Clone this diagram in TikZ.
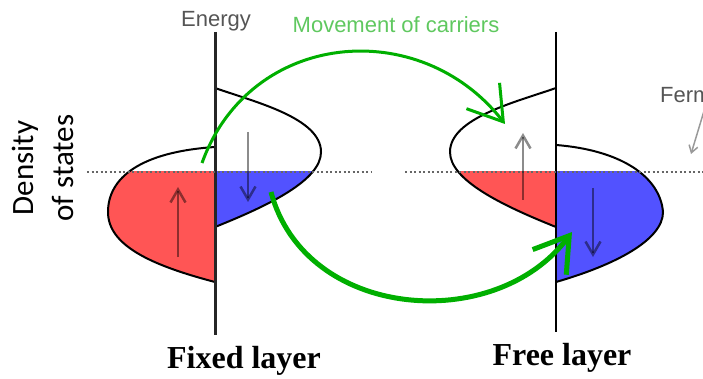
\documentclass[tikz,border=0pt]{standalone}
\usepackage{fontspec}
\setmainfont{Liberation Serif}
\newfontfamily\arialf{Liberation Sans}
\newfontfamily\calibrif{Carlito}
\usetikzlibrary{arrows.meta}
\definecolor{dosred}{RGB}{255,85,85}
\definecolor{dosblue}{RGB}{82,82,255}
\definecolor{cgreen}{RGB}{0,175,0}
\definecolor{tgreen}{RGB}{95,200,95}
\definecolor{tgray}{RGB}{85,85,85}
\begin{document}
\begin{tikzpicture}[x=1pt,y=-1pt,
  lobe/.style={draw=black,line width=2pt},
  axisline/.style={draw=black,line width=2.5pt},
  fermiline/.style={draw=black!60,line width=2pt,dash pattern=on 2pt off 2.5pt},
  spinarrow/.style={draw=black,draw opacity=0.45,line width=2.5pt,-{Straight Barb[length=13pt,width=15pt]}},
  carrier/.style={draw=cgreen,line width=3pt,-{Straight Barb[length=33pt,width=42pt]}},
  smalllabel/.style={font=\arialf\fontsize{22}{26}\selectfont,anchor=base,inner sep=0pt},
  layerlabel/.style={font=\bfseries\fontsize{32}{38}\selectfont,anchor=base,inner sep=0pt},
  doslabel/.style={font=\calibrif\fontsize{31}{36}\selectfont,anchor=base,inner sep=0pt,rotate=90}
]
\useasboundingbox (0,0) rectangle (703,379);
\clip (0,0) rectangle (703,379);

% filled parts below the Fermi level
\begin{scope}
  \clip (0,172) rectangle (703,379);
  \fill[dosred] (215,147) .. controls (140,152) and (108,178) .. (108,212)
     .. controls (108,245) and (150,265) .. (215,282) -- cycle;
  \fill[dosblue] (215,88) .. controls (255,102) and (321,118) .. (321,152)
     .. controls (321,180) and (270,205) .. (215,227) -- cycle;
  \fill[dosred] (556,88) .. controls (516,102) and (450,118) .. (450,152)
     .. controls (450,180) and (501,205) .. (556,227) -- cycle;
  \fill[dosblue] (556,145) .. controls (620,150) and (660,176) .. (663,212)
     .. controls (663,240) and (615,265) .. (556,282) -- cycle;
\end{scope}

% density of states outlines
\draw[lobe] (215,147) .. controls (140,152) and (108,178) .. (108,212)
   .. controls (108,245) and (150,265) .. (215,282);
\draw[lobe] (215,88) .. controls (255,102) and (321,118) .. (321,152)
   .. controls (321,180) and (270,205) .. (215,227);
\draw[lobe] (556,88) .. controls (516,102) and (450,118) .. (450,152)
   .. controls (450,180) and (501,205) .. (556,227);
\draw[lobe] (556,145) .. controls (620,150) and (660,176) .. (663,212)
   .. controls (663,240) and (615,265) .. (556,282);

% energy axes
\coordinate (ax1t) at (215,32); \coordinate (ax1b) at (215,335);
\coordinate (ax2t) at (556,32); \coordinate (ax2b) at (556,332);
\draw[axisline,black!85,line width=3pt] (ax1t) -- (ax1b);
\draw[axisline,line width=2pt] (ax2t) -- (ax2b);

% Fermi levels
\coordinate (f1a) at (87,172); \coordinate (f1b) at (372,172);
\coordinate (f2a) at (405,172); \coordinate (f2b) at (703,172);
\draw[fermiline] (f1a) -- (f1b);
\draw[fermiline] (f2a) -- (f2b);

% spin arrows
\coordinate (s1a) at (178,257); \coordinate (s1b) at (178,187);
\coordinate (s2a) at (248,132); \coordinate (s2b) at (248,202);
\coordinate (s3a) at (523,200); \coordinate (s3b) at (523,133);
\coordinate (s4a) at (593,188); \coordinate (s4b) at (593,257);
\draw[spinarrow] (s1a) -- (s1b);
\draw[spinarrow] (s2a) -- (s2b);
\draw[spinarrow] (s3a) -- (s3b);
\draw[spinarrow] (s4a) -- (s4b);

% movement of carriers
\coordinate (m1s) at (202,163); \coordinate (m1e) at (505,124);
\coordinate (m2s) at (271,192); \coordinate (m2e) at (572,232);
\draw[carrier] (m1s) .. controls (250,30) and (420,15) .. (m1e);
\draw[carrier,line width=5pt] (m2s) .. controls (305,320) and (495,335) .. (m2e);

% Fermi label pointer
\coordinate (fp1) at (704,111); \coordinate (fp2) at (691,154);
\draw[black!40,line width=1.5pt,-{Straight Barb[length=7pt,width=9pt]}] (fp1) -- (fp2);

% labels
\node[smalllabel,text=tgray] (energy) at (216,27) {Energy};
\node[smalllabel,text=tgreen] (move) at (396,33) {Movement of carriers};
\node[smalllabel,text=tgray,anchor=base west] (fermi) at (660,103) {Fermi level};
\node[doslabel] (dos1) at (33,168) {Density};
\node[doslabel] (dos2) at (73,168) {of states};
\node[layerlabel] (fixed) at (244,368) {Fixed layer};
\node[layerlabel] (free) at (562,365) {Free layer};
\end{tikzpicture}
\end{document}
